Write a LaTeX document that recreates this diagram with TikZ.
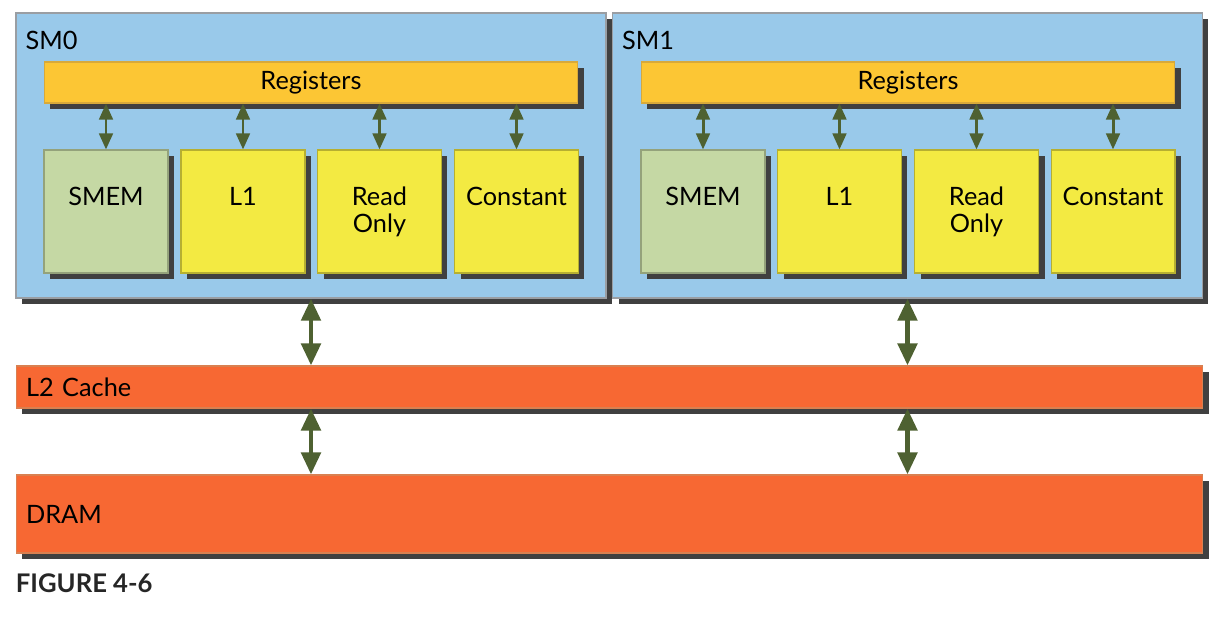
\documentclass[tikz,border=0pt]{standalone}
\usepackage{fontspec}
\setmainfont{Lato}
\usetikzlibrary{shadows}
\usetikzlibrary{arrows.meta}
\usetikzlibrary{positioning}
\definecolor{smblue}{HTML}{99C9EA}
\definecolor{smline}{HTML}{9A9EA3}
\definecolor{regorange}{HTML}{FCC634}
\definecolor{regline}{HTML}{D8A93A}
\definecolor{smemgreen}{HTML}{C5D8A4}
\definecolor{smemline}{HTML}{9DAF80}
\definecolor{cacheyellow}{HTML}{F3EA42}
\definecolor{cacheline}{HTML}{C8BD3C}
\definecolor{memred}{HTML}{F76833}
\definecolor{memline}{HTML}{D98050}
\definecolor{shadowgray}{HTML}{404040}
\definecolor{arrowgreen}{HTML}{4E6131}
\tikzstyle{boxshadow}=[drop shadow={shadow xshift=0.12cm,shadow yshift=-0.12cm,opacity=1,fill=shadowgray}]
\tikzstyle{smbox}=[rectangle,draw=smline,line width=0.8pt,fill=smblue,boxshadow,minimum width=11.8cm,minimum height=5.7cm,inner sep=0pt]
\tikzstyle{regbox}=[rectangle,draw=regline,line width=0.6pt,fill=regorange,boxshadow,minimum width=10.68cm,minimum height=0.82cm,inner sep=0pt,font=\fontsize{14.4}{15.3}\selectfont]
\tikzstyle{membox}=[rectangle,line width=0.6pt,boxshadow,minimum width=2.48cm,minimum height=2.46cm,inner sep=0pt]
\tikzstyle{boxtext}=[align=center,inner sep=0pt,font=\fontsize{14.4}{15.3}\selectfont]
\tikzstyle{bar}=[rectangle,draw=memline,line width=0.6pt,fill=memred,boxshadow,minimum width=23.74cm,text width=23.34cm,align=left,inner xsep=0.2cm,inner ysep=0pt,font=\fontsize{14.4}{15.3}\selectfont]
\tikzstyle{smallarrow}=[draw=arrowgreen,line width=1.7pt,{Triangle[width=0.27cm,length=0.32cm]}-{Triangle[width=0.27cm,length=0.32cm]},arrowgreen]
\tikzstyle{bigarrow}=[draw=arrowgreen,line width=2.8pt,{Triangle[width=0.38cm,length=0.44cm]}-{Triangle[width=0.38cm,length=0.44cm]},arrowgreen]

\begin{document}
\begin{tikzpicture}[x=0.02cm,y=-0.02cm]
    \useasboundingbox (0,0) rectangle (1230,616);
    % First the two SMs with their register files
    \foreach \pos/\name/\label in {{(311,155.5)/sm0/SM0}, {(907.5,155.5)/sm1/SM1}}
        \node[smbox] (\name) at \pos {};
    \foreach \name/\label in {sm0/SM0, sm1/SM1}
        \node[boxtext,below right=0.36cm and 0.2cm of \name.north west] (\name-t) {\label};
    \foreach \pos/\name in {{(311,82.5)/regs0}, {(908,82.5)/regs1}}
        \node[regbox] (\name) at \pos {Registers};

    % Then the on-chip memories
    \foreach \pos/\name/\col/\label in {{(106,211.5)/smem0/smemgreen/SMEM}, {(243,211.5)/lone0/cacheyellow/L1},
    {(379.5,211.5)/ro0/cacheyellow/Read\\Only}, {(516.5,211.5)/const0/cacheyellow/Constant},
    {(703,211.5)/smem1/smemgreen/SMEM}, {(839.5,211.5)/lone1/cacheyellow/L1},
    {(976.5,211.5)/ro1/cacheyellow/Read\\Only}, {(1113,211.5)/const1/cacheyellow/Constant}}
        \node[membox,fill=\col,draw=\col!75!black] (\name) at \pos {};
    \foreach \name/\label in {smem0/SMEM, lone0/L1, ro0/Read\\Only, const0/Constant,
    smem1/SMEM, lone1/L1, ro1/Read\\Only, const1/Constant}
        \node[boxtext,below=0.75cm of \name.north] (\name-t) {\label};

    % L2 and DRAM
    \node[bar,minimum height=0.84cm] (ltwo) at (609.5,387) {L2 Cache};
    \node[bar,minimum height=1.56cm] (dram) at (609.5,514) {DRAM};
    \node[inner sep=0pt,font=\fontsize{14.6}{16}\selectfont\bfseries,text=black!85,below right=0.4cm and 0cm of dram.south west] (fig) {FIGURE 4-6};

    % Connect with arrows
    \foreach \dest/\source in {smem0/regs0, lone0/regs0, ro0/regs0, const0/regs0,
    smem1/regs1, lone1/regs1, ro1/regs1, const1/regs1}
        \path[smallarrow] (\source.south -| \dest.north) -- (\dest.north);
    \foreach \source in {sm0, sm1}
    {
        \path[bigarrow] (\source.south) -- (\source.south |- ltwo.north);
        \path[bigarrow] (\source.south |- ltwo.south) -- (\source.south |- dram.north);
    }
\end{tikzpicture}
\end{document}
